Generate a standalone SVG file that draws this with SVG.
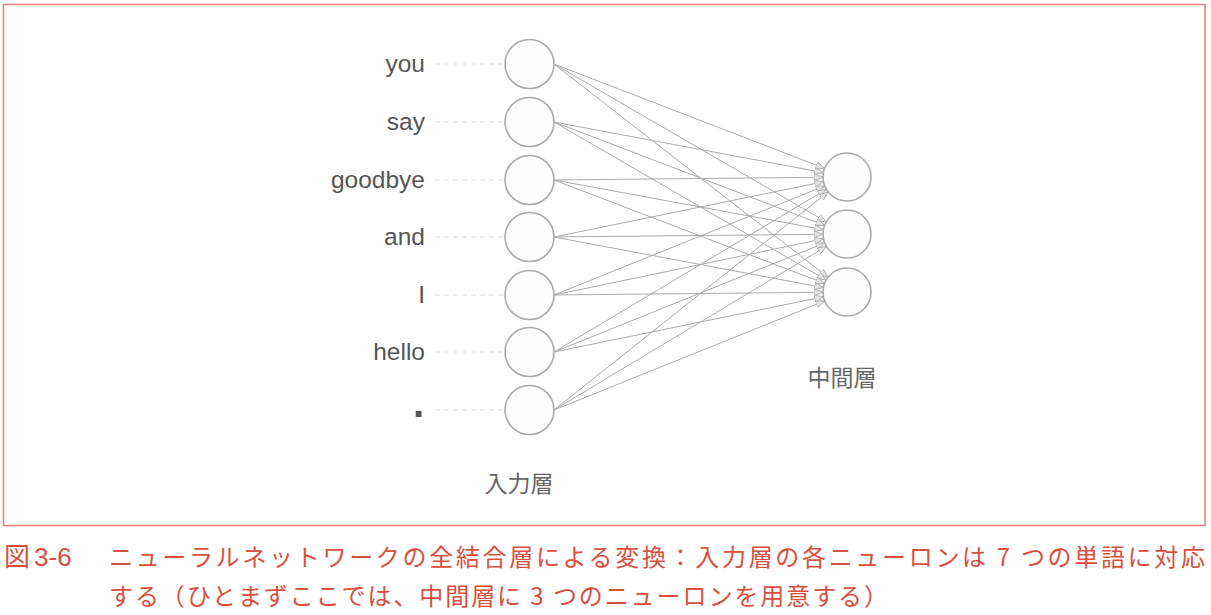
<svg xmlns="http://www.w3.org/2000/svg" width="1211" height="615" viewBox="0 0 1211 615">
<style>
.lbl{font-family:"Liberation Sans",Arial,sans-serif;font-size:24.5px;fill:#555;text-anchor:end}
.jlbl{font-family:"Noto Sans CJK JP","Noto Sans",sans-serif;font-size:23px;fill:#666;text-anchor:middle}
.cap{font-family:"Noto Sans CJK JP","Noto Sans",sans-serif;font-size:24px;fill:#d9503f}
.node{fill:#fdfdfb;stroke:#aaa;stroke-width:1.6}
.dash{stroke:#ddd;stroke-width:1.2;stroke-dasharray:5 4}
.conn line{stroke:#aaa;stroke-width:1;marker-end:url(#ah)}
</style>
<defs>
<marker id="ah" markerUnits="userSpaceOnUse" markerWidth="10" markerHeight="8" refX="9" refY="3.5" orient="auto">
<path d="M0,0 L9,3.5 L0,7 z" fill="#e4e4e4" stroke="#a5a5a5" stroke-width="0.8"/>
</marker>
</defs>
<rect x="3.5" y="4.5" width="1201.5" height="521" fill="#fff" stroke="#e8877c" stroke-width="1.6"/>
<g id="connectors" class="conn">
<line x1="554" y1="64" x2="824.61" y2="168.36"/>
<line x1="554" y1="122" x2="823.41" y2="172.57"/>
<line x1="554" y1="180" x2="823.0" y2="177.25"/>
<line x1="554" y1="237" x2="823.49" y2="181.81"/>
<line x1="554" y1="295" x2="824.74" y2="185.97"/>
<line x1="554" y1="352" x2="826.40" y2="189.31"/>
<line x1="554" y1="410" x2="828.22" y2="191.94"/>
<line x1="554" y1="64" x2="826.24" y2="221.96"/>
<line x1="554" y1="122" x2="824.58" y2="225.43"/>
<line x1="554" y1="180" x2="823.40" y2="229.65"/>
<line x1="554" y1="237" x2="823.0" y2="234.25"/>
<line x1="554" y1="295" x2="823.50" y2="238.89"/>
<line x1="554" y1="352" x2="824.74" y2="242.97"/>
<line x1="554" y1="410" x2="826.43" y2="246.36"/>
<line x1="554" y1="64" x2="828.06" y2="277.26"/>
<line x1="554" y1="122" x2="826.24" y2="279.96"/>
<line x1="554" y1="180" x2="824.58" y2="283.43"/>
<line x1="554" y1="237" x2="823.41" y2="287.57"/>
<line x1="554" y1="295" x2="823.0" y2="292.25"/>
<line x1="554" y1="352" x2="823.49" y2="296.81"/>
<line x1="554" y1="410" x2="824.74" y2="300.97"/>
</g>
<g id="in-you"><line class="dash" x1="435" y1="64" x2="505" y2="64"/><circle class="node" cx="529.5" cy="64" r="24.5"/><text class="lbl" x="425" y="72">you</text></g>
<g id="in-say"><line class="dash" x1="435" y1="122" x2="505" y2="122"/><circle class="node" cx="529.5" cy="122" r="24.5"/><text class="lbl" x="425" y="129.5">say</text></g>
<g id="in-goodbye"><line class="dash" x1="435" y1="180" x2="505" y2="180"/><circle class="node" cx="529.5" cy="180" r="24.5"/><text class="lbl" x="425" y="187.5">goodbye</text></g>
<g id="in-and"><line class="dash" x1="435" y1="237" x2="505" y2="237"/><circle class="node" cx="529.5" cy="237" r="24.5"/><text class="lbl" x="425" y="245">and</text></g>
<g id="in-I"><line class="dash" x1="435" y1="295" x2="505" y2="295"/><circle class="node" cx="529.5" cy="295" r="24.5"/><text class="lbl" x="425" y="302.5">I</text></g>
<g id="in-hello"><line class="dash" x1="435" y1="352" x2="505" y2="352"/><circle class="node" cx="529.5" cy="352" r="24.5"/><text class="lbl" x="425" y="360">hello</text></g>
<g id="in-period"><line class="dash" x1="435" y1="410" x2="505" y2="410"/><circle class="node" cx="529.5" cy="410" r="24.5"/><text class="lbl" x="424" y="417" style="font-size:40px;font-weight:bold">.</text></g>
<g id="hid-1"><circle class="node" cx="847" cy="177" r="24"/></g>
<g id="hid-2"><circle class="node" cx="847" cy="234" r="24"/></g>
<g id="hid-3"><circle class="node" cx="847" cy="292" r="24"/></g>
<text class="jlbl" x="519" y="492">入力層</text>
<text class="jlbl" x="842" y="386">中間層</text>
<text class="cap" x="4" y="566" style="font-size:26px">図<tspan dx="4" style="font-family:'Liberation Sans',Arial,sans-serif">3-6</tspan></text>
<text class="cap" x="109" y="566" textLength="1096">ニューラルネットワークの全結合層による変換：入力層の各ニューロンは 7 つの単語に対応</text>
<text class="cap" x="109" y="605" textLength="779">する（ひとまずここでは、中間層に 3 つのニューロンを用意する）</text>
</svg>
